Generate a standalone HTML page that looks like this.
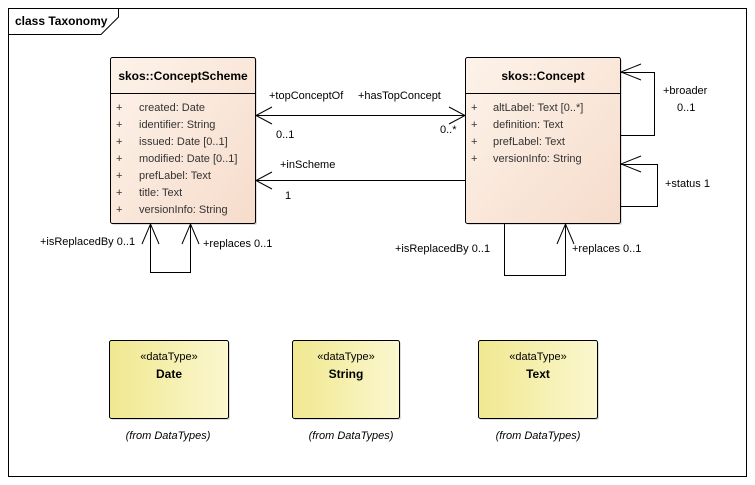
<!DOCTYPE html>
<html><head><style>
html,body{margin:0;padding:0;background:#fff;}
svg{display:block;font-family:"Liberation Sans",sans-serif;}
</style></head><body>
<svg width="755" height="485" viewBox="0 0 755 485" xmlns="http://www.w3.org/2000/svg">
<defs>
<linearGradient id="cls" x1="0" y1="0" x2="1" y2="1">
<stop offset="0" stop-color="#fdf3ea"/><stop offset="1" stop-color="#f6dccb"/></linearGradient>
<linearGradient id="dt" x1="0" y1="0" x2="1" y2="0">
<stop offset="0" stop-color="#f0e890"/><stop offset="1" stop-color="#fbf7cf"/></linearGradient>
</defs>
<rect x="0" y="0" width="755" height="485" fill="#fff"/>
<rect x="8.5" y="8.5" width="738" height="468" fill="none" stroke="#000" stroke-width="1"/>
<path d="M8.5 34.5 H101 L118.5 17 V8.5" fill="none" stroke="#000"/>
<text x="15" y="25" font-size="12" font-weight="bold" fill="#000">class Taxonomy</text>

<!-- ConceptScheme -->
<rect x="112" y="59" width="145" height="166" rx="2" fill="#bbb" opacity="0.5"/>
<rect x="110.5" y="57.5" width="145" height="166" rx="2" fill="url(#cls)" stroke="#000"/>
<line x1="110.5" y1="93.5" x2="255.5" y2="93.5" stroke="#000"/>
<text x="183" y="80" font-size="12" font-weight="bold" text-anchor="middle">skos::ConceptScheme</text>
<g font-size="11" fill="#333">
<text x="116" y="111">+</text><text x="139" y="111">created: Date</text>
<text x="116" y="128">+</text><text x="139" y="128">identifier: String</text>
<text x="116" y="145">+</text><text x="139" y="145">issued: Date [0..1]</text>
<text x="116" y="162">+</text><text x="139" y="162">modified: Date [0..1]</text>
<text x="116" y="179">+</text><text x="139" y="179">prefLabel: Text</text>
<text x="116" y="196">+</text><text x="139" y="196">title: Text</text>
<text x="116" y="213">+</text><text x="139" y="213">versionInfo: String</text>
</g>

<!-- Concept -->
<rect x="467" y="59" width="155" height="166" rx="2" fill="#bbb" opacity="0.5"/>
<rect x="465.5" y="57.5" width="155" height="166" rx="2" fill="url(#cls)" stroke="#000"/>
<line x1="465.5" y1="93.5" x2="620.5" y2="93.5" stroke="#000"/>
<text x="543" y="80" font-size="12" font-weight="bold" text-anchor="middle">skos::Concept</text>
<g font-size="11" fill="#333">
<text x="471" y="111">+</text><text x="493" y="111">altLabel: Text [0..*]</text>
<text x="471" y="128">+</text><text x="493" y="128">definition: Text</text>
<text x="471" y="145">+</text><text x="493" y="145">prefLabel: Text</text>
<text x="471" y="162">+</text><text x="493" y="162">versionInfo: String</text>
</g>

<g fill="none" stroke="#000">
<!-- topConcept -->
<line x1="256" y1="115.5" x2="465" y2="115.5"/>
<path d="M272 107 L256 115.5 L272 124"/>
<path d="M449 107 L465 115.5 L449 124"/>
<!-- inScheme -->
<line x1="256" y1="180.5" x2="465" y2="180.5"/>
<path d="M272 172 L256 180.5 L272 189"/>
<!-- broader -->
<path d="M621 72.5 H654.5 V135.5 H621"/>
<path d="M641 64 L621 72 L641 80"/>
<!-- status -->
<path d="M621 164.5 H657.5 V206.5 H621"/>
<path d="M641 156 L621 164 L641 172"/>
<!-- Concept replaces -->
<path d="M504.5 224 V275.5 H565.5 V224"/>
<path d="M557 244 L565.5 224 L574 244"/>
<!-- Scheme replaces -->
<path d="M150.5 224 V272.5 H190.5 V224"/>
<path d="M142 244 L150.5 224 L159 244"/>
<path d="M182 244 L190.5 224 L199 244"/>
</g>
<g font-size="11" fill="#000">
<text x="269" y="99">+topConceptOf</text>
<text x="358" y="99">+hasTopConcept</text>
<text x="276" y="138">0..1</text>
<text x="440" y="133">0..*</text>
<text x="280" y="168">+inScheme</text>
<text x="285" y="199">1</text>
<text x="663" y="94">+broader</text>
<text x="677" y="111">0..1</text>
<text x="665" y="187">+status 1</text>
<text x="395" y="252">+isReplacedBy 0..1</text>
<text x="572" y="252">+replaces 0..1</text>
<text x="40" y="245">+isReplacedBy 0..1</text>
<text x="203" y="247">+replaces 0..1</text>
</g>

<!-- datatypes -->
<g>
<rect x="111" y="342" width="119" height="78" rx="2" fill="#bbb" opacity="0.5"/>
<rect x="109.5" y="340.5" width="119" height="78" rx="2" fill="url(#dt)" stroke="#000"/>
<rect x="294" y="342" width="107" height="78" rx="2" fill="#bbb" opacity="0.5"/>
<rect x="292.5" y="340.5" width="107" height="78" rx="2" fill="url(#dt)" stroke="#000"/>
<rect x="480" y="342" width="119" height="78" rx="2" fill="#bbb" opacity="0.5"/>
<rect x="478.5" y="340.5" width="119" height="78" rx="2" fill="url(#dt)" stroke="#000"/>
</g>
<g font-size="11" text-anchor="middle">
<text x="169" y="360">«dataType»</text>
<text x="169" y="378" font-weight="bold" font-size="12">Date</text>
<text x="168" y="439" font-style="italic">(from DataTypes)</text>
<text x="346" y="360">«dataType»</text>
<text x="346" y="378" font-weight="bold" font-size="12">String</text>
<text x="351" y="439" font-style="italic">(from DataTypes)</text>
<text x="538" y="360">«dataType»</text>
<text x="538" y="378" font-weight="bold" font-size="12">Text</text>
<text x="538" y="439" font-style="italic">(from DataTypes)</text>
</g>
</svg>
</body></html>
